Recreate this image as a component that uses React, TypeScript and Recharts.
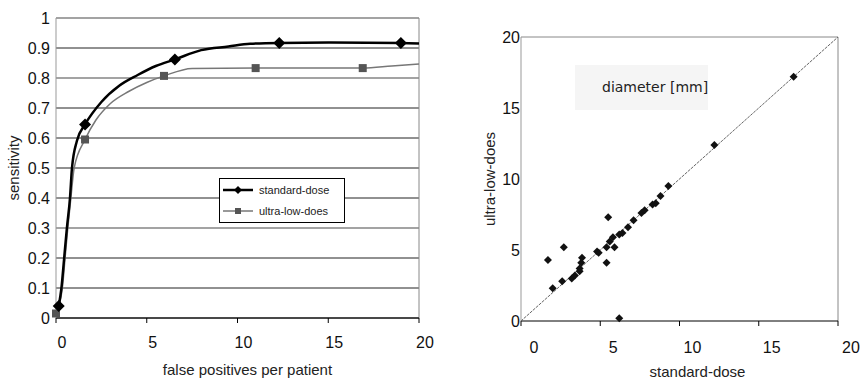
import React from "react";
import {
    ComposedChart,
    ScatterChart,
    Line,
    Scatter,
    XAxis,
    YAxis,
    CartesianGrid,
    ReferenceLine,
} from "recharts";

// left panel: sensitivity vs false positives per patient
const fpTicks = [0, 5, 10, 15, 20];
const sensTicks = [0, 0.1, 0.2, 0.3, 0.4, 0.5, 0.6, 0.7, 0.8, 0.9, 1];
const lightGrid = [0.3, 0.8, 1];

const stdMarkX = [0.15, 1.6, 6.55, 12.3, 19.0];
const stdMarkY = [0.04, 0.645, 0.862, 0.917, 0.917];
const ulMarkX = [0.0, 1.6, 5.95, 11.0, 16.9];
const ulMarkY = [0.015, 0.595, 0.807, 0.833, 0.833];

// points
const stdCurveX = [0.15, 0.3, 0.45, 0.6, 0.77, 0.88, 1.15, 1.6, 2.5, 3.5, 4.5, 5.5, 6.55, 8.0, 9.5, 10.7, 12.3, 15, 19.0, 20];
const stdCurveY = [0.04, 0.1, 0.2, 0.3, 0.4, 0.5, 0.59, 0.645, 0.72, 0.775, 0.81, 0.84, 0.862, 0.893, 0.905, 0.914, 0.917, 0.918, 0.917, 0.915];
const ulCurveX = [0.0, 0.35, 0.5, 0.65, 0.82, 1.0, 1.6, 2.2, 3.0, 4.0, 5.0, 5.95, 7.5, 11.0, 16.9, 18.5, 20];
const ulCurveY = [0.015, 0.1, 0.2, 0.3, 0.4, 0.5, 0.595, 0.66, 0.715, 0.755, 0.785, 0.807, 0.832, 0.833, 0.833, 0.84, 0.847];

// right panel: diameter [mm], standard-dose vs ultra-low-does
const diamTicks = [0, 5, 10, 15, 20];
const diamStd = [1.7, 2.7, 5.5, 6.2, 5.4, 2.0, 2.6, 3.2, 3.4, 3.7, 3.7, 3.8, 3.85, 4.8, 4.9, 5.4, 5.6, 5.9, 6.2, 6.4, 6.75, 5.8, 7.1, 7.6, 7.8, 8.3, 8.5, 8.8, 9.3, 12.2, 17.2];
const diamUld = [4.3, 5.2, 7.3, 0.2, 4.1, 2.3, 2.8, 3.0, 3.2, 3.5, 3.7, 4.1, 4.45, 4.9, 4.8, 5.2, 5.6, 5.2, 6.1, 6.2, 6.6, 5.9, 7.1, 7.6, 7.8, 8.2, 8.3, 8.8, 9.5, 12.4, 17.2];

const zip = (xs: number[], ys: number[]) => xs.map((x, i) => ({ x, y: ys[i] }));

const font = "'Liberation Sans', Arial, sans-serif";
const tickStyle = { fontSize: 16, fill: "#111", fontFamily: font };
const titleStyle = { fontSize: 15, fill: "#222", fontFamily: font };

const Diamond = (size: number, color: string) => (p: any) => (
    <path
        d={`M${p.cx},${p.cy - size} L${p.cx + size},${p.cy} L${p.cx},${p.cy + size} L${p.cx - size},${p.cy} Z`}
        fill={color}
    />
);

const Square = (size: number, color: string) => (p: any) => (
    <rect x={p.cx - size} y={p.cy - size} width={size * 2} height={size * 2} fill={color} />
);

function SensitivityChart() {
    return (
        <ComposedChart
            width={445}
            height={383}
            margin={{ top: 18, right: 26, bottom: 0, left: 0 }}
            style={{ fontFamily: font }}>
            <CartesianGrid vertical={false} stroke="#222" horizontalValues={sensTicks} />
            {lightGrid.map((v) => (
                <ReferenceLine key={v} y={v} stroke="#aaa" strokeWidth={1.5} />
            ))}
            <ReferenceLine x={20} stroke="#888" />
            <XAxis
                type="number"
                dataKey="x"
                domain={[0, 20]}
                ticks={fpTicks}
                height={65}
                tick={{ ...tickStyle, dx: 6 }}
                tickSize={5}
                tickMargin={14}
                stroke="#000"
                label={{ value: "false positives per patient", position: "insideBottom", offset: 8, dx: 10, style: titleStyle }}
            />
            <YAxis
                type="number"
                domain={[0, 1]}
                ticks={sensTicks}
                width={56}
                tick={tickStyle}
                tickSize={0}
                tickMargin={6}
                stroke="#999"
                label={{ value: "sensitivity", angle: -90, position: "insideLeft", offset: 14, style: { ...titleStyle, textAnchor: "middle" } }}
            />
            <Line data={zip(ulCurveX, ulCurveY)} dataKey="y" type="monotone" stroke="#777" strokeWidth={1.5} dot={false} isAnimationActive={false} />
            <Line data={zip(stdCurveX, stdCurveY)} dataKey="y" type="monotone" stroke="#000" strokeWidth={2.5} dot={false} isAnimationActive={false} />
            <Scatter data={zip(ulMarkX, ulMarkY)} dataKey="y" shape={Square(4, "#555")} isAnimationActive={false} />
            <Scatter data={zip(stdMarkX, stdMarkY)} dataKey="y" shape={Diamond(6, "#000")} isAnimationActive={false} />
        </ComposedChart>
    );
}

function DiameterChart() {
    return (
        <ScatterChart
            width={425}
            height={383}
            margin={{ top: 37, right: 27, bottom: 0, left: 0 }}
            style={{ fontFamily: font }}>
            <ReferenceLine y={20} stroke="#888" />
            <ReferenceLine x={20} stroke="#888" />
            <ReferenceLine segment={[{ x: 0, y: 0 }, { x: 20, y: 20 }]} stroke="#666" strokeDasharray="3 1" />
            <XAxis
                type="number"
                dataKey="x"
                domain={[0, 20]}
                ticks={diamTicks}
                height={62}
                tick={{ ...tickStyle, dx: 13 }}
                tickSize={5}
                tickMargin={16}
                stroke="#000"
                label={{ value: "standard-dose", position: "insideBottom", offset: 6, dx: 18, style: titleStyle }}
            />
            <YAxis
                type="number"
                dataKey="y"
                domain={[0, 20]}
                ticks={diamTicks}
                width={81}
                tick={tickStyle}
                tickSize={0}
                tickMargin={1}
                stroke="#999"
                label={{ value: "ultra-low-does", angle: -90, position: "insideLeft", offset: 50, style: { ...titleStyle, textAnchor: "middle" } }}
            />
            <Scatter data={zip(diamStd, diamUld)} shape={Diamond(4, "#111")} isAnimationActive={false} />
        </ScatterChart>
    );
}

export default function App() {
    return (
        <div style={{ position: "absolute", left: 0, top: 0, width: 865, height: 383, background: "#fff" }}>
            <div style={{ position: "absolute", left: 0, top: 0 }}>
                <SensitivityChart />
            </div>
            <div style={{ position: "absolute", left: 440, top: 0 }}>
                <DiameterChart />
            </div>
            {/* legend box of the left panel */}
            <div
                style={{
                    position: "absolute",
                    left: 219,
                    top: 178,
                    width: 124,
                    height: 43,
                    border: "1px solid #000",
                    background: "#fff",
                    overflow: "hidden",
                    fontFamily: font,
                    fontSize: 11,
                    color: "#222",
                }}>
                <div style={{ display: "flex", alignItems: "center", height: 21, whiteSpace: "nowrap" }}>
                    <svg width={36} height={10} style={{ marginLeft: 3, flexShrink: 0 }}>
                        <line x1={0} y1={5} x2={30} y2={5} stroke="#000" strokeWidth={2.5} />
                        <path d="M15,1 L19,5 L15,9 L11,5 Z" fill="#000" />
                    </svg>
                    <span>standard-dose</span>
                </div>
                <div style={{ display: "flex", alignItems: "center", height: 21, whiteSpace: "nowrap" }}>
                    <svg width={36} height={10} style={{ marginLeft: 3, flexShrink: 0 }}>
                        <line x1={0} y1={5} x2={30} y2={5} stroke="#777" strokeWidth={1.5} />
                        <rect x={12} y={2} width={6} height={6} fill="#555" />
                    </svg>
                    <span>ultra-low-does</span>
                </div>
            </div>
            {/* caption box of the right panel */}
            <div
                style={{
                    position: "absolute",
                    left: 575,
                    top: 65,
                    width: 133,
                    height: 45,
                    lineHeight: "44px",
                    background: "#f5f5f5",
                    fontFamily: "'DejaVu Sans', Verdana, sans-serif",
                    fontSize: 14,
                    color: "#222",
                    paddingLeft: 27,
                    boxSizing: "border-box",
                    whiteSpace: "nowrap",
                }}>
                diameter [mm]
            </div>
        </div>
    );
}
